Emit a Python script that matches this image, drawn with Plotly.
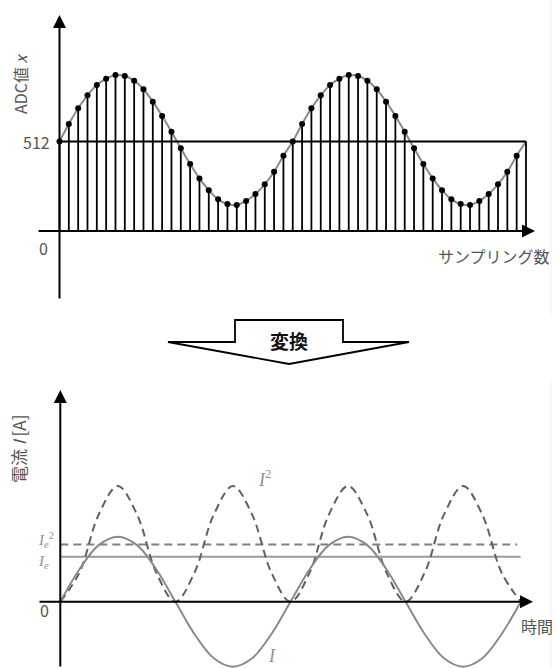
import plotly.graph_objects as go

W, H = 558, 668

# ---------------- data ----------------
# top panel: ADC samples (two periods, 25 samples per period)
sample_index = list(range(51))
adc_values = [512, 612, 702, 776, 835, 871, 892, 887, 860, 811, 740, 658, 568, 473, 383, 301, 233, 181, 154, 149, 172, 212, 267, 339, 431,
              512, 612, 702, 776, 835, 871, 892, 887, 860, 811, 740, 658, 568, 473, 383, 301, 233, 181, 154, 149, 172, 212, 267, 339, 431,
              512]
adc_ticks = [0, 512]
adc_tick_labels = ["0", "512"]

# bottom panel: current I and I^2 over two periods (time in periods)
time_pts = [i / 12 for i in range(25)]
current_I = [0, 0.5, 0.87, 1.0, 0.87, 0.5, 0, -0.5, -0.87, -1.0, -0.87, -0.5,
             0, 0.5, 0.87, 1.0, 0.87, 0.5, 0, -0.5, -0.87, -1.0, -0.87, -0.5, 0]
current_I2 = [0, 0.45, 1.34, 1.78, 1.34, 0.45, 0, 0.45, 1.34, 1.78, 1.34, 0.45,
              0, 0.45, 1.34, 1.78, 1.34, 0.45, 0, 0.45, 1.34, 1.78, 1.34, 0.45, 0]
I_eff = 0.69
I_eff_sq = 0.88

# ---------------- pixel layout helpers ----------------
def paper_x(p):
    return p / W

def paper_y(p):
    return 1 - p / H

def axis_range(v0, p0, scale, pmin, pmax, inverted=False):
    if inverted:
        return [v0 - (pmax - p0) / scale, v0 + (p0 - pmin) / scale]
    return [v0 - (p0 - pmin) / scale, v0 + (pmax - p0) / scale]

# top panel mapping
tx_scale = (526 - 59.5) / 50
ty_scale = (231 - 141.5) / 512
top_x_range = axis_range(0, 59.5, tx_scale, 0, W)
top_y_range = axis_range(0, 231, ty_scale, 0, 334, inverted=True)

def top_v(py):
    return (231 - py) / ty_scale

def top_s(px):
    return (px - 59.5) / tx_scale

# bottom panel mapping
bx_scale = (520.7 - 60.3) / 2
by_scale = 65.0
bot_x_range = axis_range(0, 60.3, bx_scale, 0, W)
bot_y_range = axis_range(0, 601.7, by_scale, 334, H, inverted=True)

def bot_v(py):
    return (601.7 - py) / by_scale

def bot_t(px):
    return (px - 60.3) / bx_scale

fig = go.Figure()

# ---- top panel traces ----
fig.add_trace(go.Scatter(x=sample_index, y=adc_values, mode="lines",
                         line=dict(color="#8a8a8a", width=2, shape="spline", smoothing=1.0),
                         xaxis="x", yaxis="y", hoverinfo="skip"))
stem_x, stem_y = [], []
for n, v in zip(sample_index, adc_values):
    stem_x += [n, n, None]
    stem_y += [0, v, None]
fig.add_trace(go.Scatter(x=stem_x, y=stem_y, mode="lines",
                         line=dict(color="black", width=1.8),
                         xaxis="x", yaxis="y", hoverinfo="skip"))
fig.add_trace(go.Scatter(x=[sample_index[0], sample_index[-1]], y=[adc_ticks[1], adc_ticks[1]], mode="lines",
                         line=dict(color="black", width=1.8),
                         xaxis="x", yaxis="y", hoverinfo="skip"))
fig.add_trace(go.Scatter(x=sample_index[:-1], y=adc_values[:-1], mode="markers",
                         marker=dict(color="black", size=6),
                         xaxis="x", yaxis="y", hoverinfo="skip"))

# ---- bottom panel traces ----
fig.add_trace(go.Scatter(x=[time_pts[0], time_pts[-1]], y=[I_eff, I_eff], mode="lines",
                         line=dict(color="#9a9a9a", width=2),
                         xaxis="x2", yaxis="y2", hoverinfo="skip"))
fig.add_trace(go.Scatter(x=[time_pts[0], time_pts[-1] - 0.015], y=[I_eff_sq, I_eff_sq], mode="lines",
                         line=dict(color="#808080", width=2, dash="8px,5px"),
                         xaxis="x2", yaxis="y2", hoverinfo="skip"))
fig.add_trace(go.Scatter(x=time_pts, y=current_I2, mode="lines",
                         line=dict(color="#606060", width=2, dash="8px,5px", shape="spline", smoothing=1.0),
                         xaxis="x2", yaxis="y2", hoverinfo="skip"))
fig.add_trace(go.Scatter(x=time_pts, y=current_I, mode="lines",
                         line=dict(color="#8a8a8a", width=2, shape="spline", smoothing=1.0),
                         xaxis="x2", yaxis="y2", hoverinfo="skip"))

ax_common = dict(visible=False, fixedrange=True)
fig.update_layout(
    width=W, height=H, margin=dict(l=0, r=0, t=0, b=0),
    paper_bgcolor="white", plot_bgcolor="rgba(0,0,0,0)", showlegend=False,
    xaxis=dict(domain=[0, 1], range=top_x_range, anchor="y", **ax_common),
    yaxis=dict(domain=[0.5, 1], range=top_y_range, anchor="x", **ax_common),
    xaxis2=dict(domain=[0, 1], range=bot_x_range, anchor="y2", **ax_common),
    yaxis2=dict(domain=[0, 0.5], range=bot_y_range, anchor="x2", **ax_common),
    font=dict(family="Noto Sans CJK JP", color="#555555"),
)

annotations = []
def axis_arrow(xr, yr, x, y, axx, axy):
    annotations.append(dict(xref=xr, yref=yr, axref=xr, ayref=yr, x=x, y=y, ax=axx, ay=axy,
                            showarrow=True, arrowhead=2, arrowsize=1.3, arrowwidth=2,
                            arrowcolor="black", text="", font=dict(size=10)))

# top axes
axis_arrow("x", "y", 0, top_v(15), 0, top_v(300))
axis_arrow("x", "y", top_s(535), 0, top_s(37), 0)
# bottom axes
axis_arrow("x2", "y2", 0, bot_v(390), 0, bot_v(668))
axis_arrow("x2", "y2", bot_t(533), 0, bot_t(38), 0)

def label(px, py, text, size=15, color="#555555", xanchor="center", angle=0, family=None, yanchor="middle"):
    d = dict(xref="paper", yref="paper", x=paper_x(px), y=paper_y(py), text=text,
             showarrow=False, xanchor=xanchor, yanchor=yanchor, textangle=angle,
             font=dict(size=size, color=color))
    if family:
        d["font"]["family"] = family
    annotations.append(d)

# top labels
label(52, 142, adc_tick_labels[1], size=16, xanchor="right")
label(50, 248, adc_tick_labels[0], size=16, xanchor="right")
label(20, 84, "ADC値 <i>x</i>", size=16, angle=-90)
label(494, 256, "サンプリング数", size=16)

# bottom labels
label(51, 610, "0", size=16, xanchor="right")
label(18, 449, "電流 <i>I</i> [A]", size=17, angle=-90)
label(537, 626, "時間", size=16)
serif = "Liberation Serif"
label(264, 478, "<i>I</i><sup>2</sup>", size=18, color="#909090", family=serif)
label(272, 656, "<i>I</i>", size=18, color="#909090", family=serif)
label(46, 540, "<i>I<sub>e</sub></i><sup>2</sup>", size=15, color="#909090", family=serif)
label(43, 562, "<i>I<sub>e</sub></i>", size=15, color="#909090", family=serif)

# transform arrow text
label(289, 340, "<b>変換</b>", size=19, color="#111111")
fig.update_layout(annotations=annotations)

# hollow down-arrow shape and faint image borders
pts = [(235, 320), (343, 320), (343, 342), (409, 342), (289, 364), (168, 342), (235, 342)]
path = "M " + " L ".join(f"{paper_x(a):.5f},{paper_y(b):.5f}" for a, b in pts) + " Z"
fig.add_shape(type="path", xref="paper", yref="paper", path=path,
              line=dict(color="black", width=1.8), fillcolor="white", layer="below")
fig.add_shape(type="line", xref="paper", yref="paper", x0=paper_x(551), x1=paper_x(551),
              y0=paper_y(0), y1=paper_y(318), line=dict(color="#f0f0f0", width=1), layer="below")
fig.add_shape(type="line", xref="paper", yref="paper", x0=paper_x(551), x1=paper_x(551),
              y0=paper_y(378), y1=paper_y(668), line=dict(color="#f0f0f0", width=1), layer="below")

fig.write_html("out.html", config={"displayModeBar": False},
               post_script="document.body.style.margin='0';document.body.style.overflow='hidden';")
